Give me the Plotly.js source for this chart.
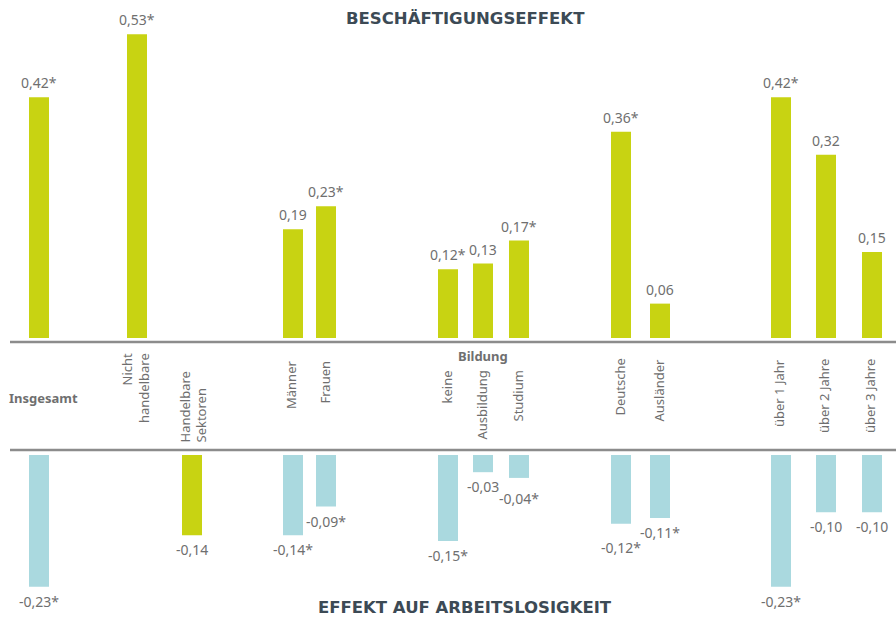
<!DOCTYPE html>
<html>
<head>
<meta charset="utf-8">
<script src="https://cdn.plot.ly/plotly-3.0.1.min.js"></script>
<style>html,body{margin:0;padding:0;background:#fff;}#chart{width:896px;height:619px;}</style>
</head>
<body>
<div id="chart"></div>
<script>
// ---- data ----
const categories = ['Insgesamt','Nicht handelbare','Handelbare Sektoren','Männer','Frauen','keine','Ausbildung','Studium','Deutsche','Ausländer','über 1 Jahr','über 2 Jahre','über 3 Jahre'];
const employmentEffect = [0.42, 0.53, null, 0.19, 0.23, 0.12, 0.13, 0.17, 0.36, 0.06, 0.42, 0.32, 0.15];
const employmentSignificant = [true, true, false, false, true, true, false, true, true, false, true, false, false];
const unemploymentEffect = [-0.23, null, -0.14, -0.14, -0.09, -0.15, -0.03, -0.04, -0.12, -0.11, -0.23, -0.10, -0.10];
const unemploymentSignificant = [true, false, false, true, true, true, false, true, true, true, true, false, false];
const titleTop = 'BESCHÄFTIGUNGSEFFEKT';
const titleBottom = 'EFFEKT AUF ARBEITSLOSIGKEIT';
const groupLabel = 'Bildung';

// ---- layout constants (positions / styles) ----
const W = 896, H = 619;
const xPos = [39, 137, 192, 293, 326, 448, 483, 519, 621, 660, 781, 826, 872];
const bottomLabelExtraShift = [0, 0, 0, 0, 0, 0, 0, 6, 9, 0, 0, 0, 0];
const labelText = ['Insgesamt','Nicht<br>handelbare','Handelbare<br>Sektoren','Männer','Frauen','keine','Ausbildung','Studium','Deutsche','Ausländer','über 1 Jahr','über 2 Jahre','über 3 Jahre'];
const labelTopPx = [null, 353, null, 361, 361, 371, 371, 371, 359, 359, 359, 359, 359];
const GREEN = '#c8d312', BLUE = '#aad9df', GRAY = '#6f6f6f', DARK = '#3c4a55';
const FONT = 'Noto Sans, sans-serif';
const TITLE_FONT = 'DejaVu Sans, sans-serif';
const pxPerUnit = 573, zeroTop = 338, zeroBottom = 455;
const py = p => 1 - p / H;

const fmt = (v, s) => v.toFixed(2).replace('.', ',') + (s ? '*' : '');

const traces = [
  {
    type: 'bar', x: xPos, y: employmentEffect, width: 20,
    marker: {color: GREEN}, xaxis: 'x', yaxis: 'y', hoverinfo: 'skip'
  },
  {
    type: 'bar', x: xPos, y: unemploymentEffect, width: 20,
    marker: {color: categories.map(c => c === 'Handelbare Sektoren' ? GREEN : BLUE)},
    xaxis: 'x', yaxis: 'y2', hoverinfo: 'skip'
  }
];

const annotations = [];
employmentEffect.forEach((v, i) => {
  if (v === null) return;
  annotations.push({x: xPos[i], y: v, xref: 'x', yref: 'y', text: fmt(v, employmentSignificant[i]),
    showarrow: false, yanchor: 'bottom', xanchor: 'center', yshift: 3,
    font: {family: FONT, size: 14, color: GRAY}});
});
unemploymentEffect.forEach((v, i) => {
  if (v === null) return;
  annotations.push({x: xPos[i], y: v, xref: 'x', yref: 'y2', text: fmt(v, unemploymentSignificant[i]),
    showarrow: false, yanchor: 'top', xanchor: 'center', yshift: -3 - bottomLabelExtraShift[i],
    font: {family: FONT, size: 14, color: GRAY}});
});
// category labels
categories.forEach((c, i) => {
  if (c === 'Insgesamt') {
    annotations.push({x: 43, y: py(398), xref: 'x', yref: 'paper', text: '<b>' + c + '</b>', showarrow: false,
      xanchor: 'center', yanchor: 'middle', font: {family: FONT, size: 13, color: GRAY}});
  } else if (c === 'Handelbare Sektoren') {
    annotations.push({x: xPos[i] + 1, y: py(445), xref: 'x', yref: 'paper', text: labelText[i], showarrow: false,
      textangle: -90, align: 'left', xanchor: 'center', yanchor: 'bottom', font: {family: FONT, size: 13, color: GRAY}});
  } else {
    annotations.push({x: xPos[i] - 2, y: py(labelTopPx[i] - 2), xref: 'x', yref: 'paper', text: labelText[i], showarrow: false,
      textangle: -90, align: 'right', xanchor: 'center', yanchor: 'top', font: {family: FONT, size: 13, color: GRAY}});
  }
});
annotations.push({x: 483, y: py(356), xref: 'x', yref: 'paper', text: '<b>' + groupLabel + '</b>', showarrow: false,
  xanchor: 'center', yanchor: 'middle', font: {family: FONT, size: 13, color: GRAY}});
annotations.push({x: 465.5, y: py(18), xref: 'x', yref: 'paper', text: '<b>' + titleTop + '</b>', showarrow: false,
  xanchor: 'center', yanchor: 'middle', font: {family: TITLE_FONT, size: 16.5, color: DARK}});
annotations.push({x: 465, y: py(607), xref: 'x', yref: 'paper', text: '<b>' + titleBottom + '</b>', showarrow: false,
  xanchor: 'center', yanchor: 'middle', font: {family: TITLE_FONT, size: 16.5, color: DARK}});

const layout = {
  width: W, height: H,
  margin: {l: 0, r: 0, t: 0, b: 0, pad: 0},
  paper_bgcolor: '#ffffff', plot_bgcolor: 'rgba(0,0,0,0)',
  showlegend: false,
  xaxis: {range: [0, W], visible: false, fixedrange: true},
  yaxis: {domain: [py(zeroTop), 1], range: [0, zeroTop / pxPerUnit], visible: false, fixedrange: true},
  yaxis2: {domain: [0, py(zeroBottom)], range: [-(H - zeroBottom) / pxPerUnit, 0], visible: false, fixedrange: true, anchor: 'x'},
  shapes: [
    {type: 'line', xref: 'paper', yref: 'paper', x0: 10 / W, x1: 1, y0: py(342), y1: py(342), line: {color: '#8c8c8c', width: 2.5}},
    {type: 'line', xref: 'paper', yref: 'paper', x0: 10 / W, x1: 1, y0: py(450), y1: py(450), line: {color: '#8c8c8c', width: 2.5}}
  ],
  annotations: annotations
};

Plotly.newPlot('chart', traces, layout, {displayModeBar: false, staticPlot: true});
</script>
</body>
</html>
